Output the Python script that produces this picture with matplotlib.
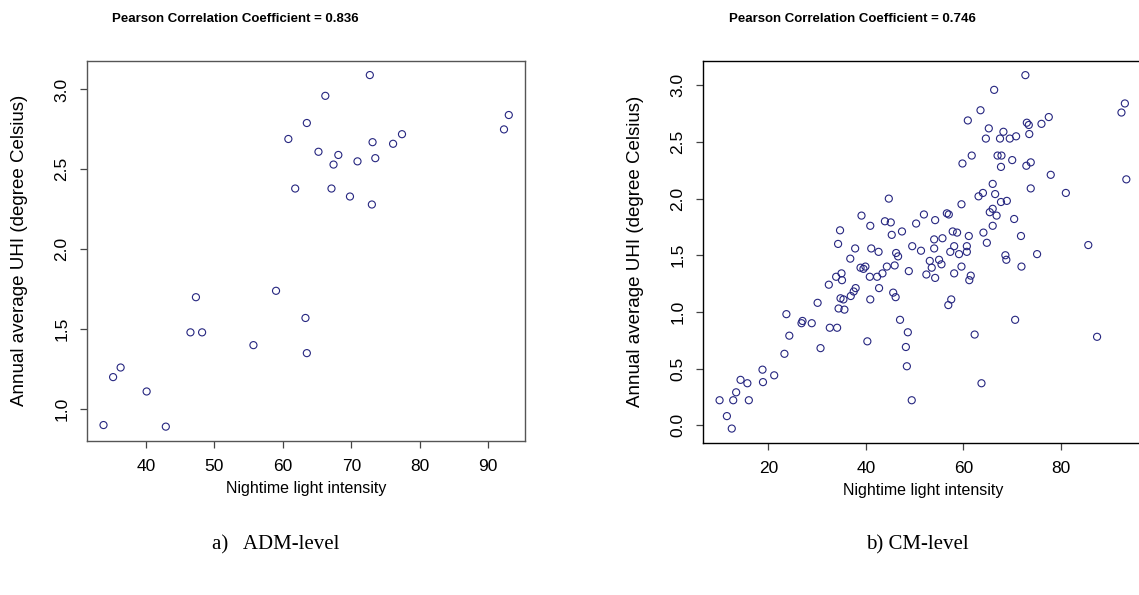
import matplotlib
matplotlib.use("Agg")
import matplotlib.pyplot as plt

# ADM-level data
adm_light = [72.7, 66.2, 63.5, 60.8, 65.2, 68.1, 67.4, 70.9, 73.1, 73.5, 76.1, 77.4,
             61.8, 67.1, 69.8, 73.0, 93.0, 92.3,
             47.3, 46.5, 48.2, 59.0, 63.3, 55.7, 63.5, 36.3, 35.2, 40.1, 33.8, 42.9]
adm_uhi = [3.09, 2.96, 2.79, 2.69, 2.61, 2.59, 2.53, 2.55, 2.67, 2.57, 2.66, 2.72,
           2.38, 2.38, 2.33, 2.28, 2.84, 2.75,
           1.70, 1.48, 1.48, 1.74, 1.57, 1.40, 1.35, 1.26, 1.20, 1.11, 0.90, 0.89]

# CM-level data
cm_light = [72.7, 66.3, 63.5, 60.9, 65.2, 68.2, 64.6, 67.5, 69.5, 70.8, 73.0, 73.4,
            73.5, 76.0, 77.5, 93.1, 92.4, 61.7, 59.8, 67.0, 67.8, 70.0, 67.7, 72.9,
            73.8, 77.9, 73.8, 81.0, 93.4, 66.0, 64.0, 63.1, 66.5, 59.6, 68.9, 67.7,
            66.0, 65.4, 66.8, 70.4, 66.0, 56.6, 57.0, 54.2, 51.9, 50.3, 47.4, 57.8,
            58.7, 61.1, 64.1, 71.8, 64.8, 85.6, 54.0, 55.7, 49.5, 58.1, 60.7,
            51.3, 54.0, 57.3, 59.1, 60.7, 68.6, 68.8, 75.1, 71.9, 53.1, 55.0, 55.5,
            53.5, 48.8, 52.4, 54.2, 58.1, 59.6, 61.5, 61.2, 57.5, 56.9, 70.6, 47.0,
            48.6, 62.3, 87.4, 48.2, 48.4, 63.7, 49.4,
            34.7, 34.3, 37.8, 36.8, 41.1, 42.6, 45.3, 46.2, 46.6, 44.3, 45.9, 43.4,
            42.3, 40.8, 38.9, 39.5, 39.9, 33.9, 35.0, 35.1, 32.4, 42.7, 37.9, 37.5,
            36.9, 34.8, 35.4, 34.4, 35.6, 40.9, 45.6, 46.1, 30.1, 23.7, 27.0, 26.8,
            28.9, 32.6, 34.1, 24.3, 30.7, 40.3, 23.3, 18.8, 18.9, 21.2, 14.3, 15.7,
            13.4, 10.0, 12.8, 16.0, 11.5, 12.5,
            44.7, 39.1, 40.9, 43.9, 45.1]
cm_uhi = [3.09, 2.96, 2.78, 2.69, 2.62, 2.59, 2.53, 2.53, 2.53, 2.55, 2.67, 2.65,
          2.57, 2.66, 2.72, 2.84, 2.76, 2.38, 2.31, 2.38, 2.38, 2.34, 2.28, 2.29,
          2.32, 2.21, 2.09, 2.05, 2.17, 2.13, 2.05, 2.02, 2.04, 1.95, 1.98, 1.97,
          1.91, 1.88, 1.85, 1.82, 1.76, 1.87, 1.86, 1.81, 1.86, 1.78, 1.71, 1.71,
          1.70, 1.67, 1.70, 1.67, 1.61, 1.59, 1.64, 1.65, 1.58, 1.58, 1.58,
          1.54, 1.56, 1.53, 1.51, 1.53, 1.50, 1.46, 1.51, 1.40, 1.45, 1.46, 1.42,
          1.39, 1.36, 1.33, 1.30, 1.34, 1.40, 1.32, 1.28, 1.11, 1.06, 0.93, 0.93,
          0.82, 0.80, 0.78, 0.69, 0.52, 0.37, 0.22,
          1.72, 1.60, 1.56, 1.47, 1.56, 1.53, 1.68, 1.52, 1.49, 1.40, 1.41, 1.34,
          1.31, 1.31, 1.39, 1.38, 1.40, 1.31, 1.34, 1.28, 1.24, 1.21, 1.21, 1.18,
          1.14, 1.12, 1.11, 1.03, 1.02, 1.11, 1.17, 1.13, 1.08, 0.98, 0.92, 0.90,
          0.90, 0.86, 0.86, 0.79, 0.68, 0.74, 0.63, 0.49, 0.38, 0.44, 0.40, 0.37,
          0.29, 0.22, 0.22, 0.22, 0.08, -0.03,
          2.00, 1.85, 1.76, 1.80, 1.79]

titles = ["Pearson Correlation Coefficient = 0.836",
          "Pearson Correlation Coefficient = 0.746"]
captions = ["a)   ADM-level", "b) CM-level"]
xlabel = "Nightime light intensity"
ylabel = "Annual average UHI (degree Celsius)"
adm_xticks = [40, 50, 60, 70, 80, 90]
adm_yticks = [1.0, 1.5, 2.0, 2.5, 3.0]
cm_xticks = [20, 40, 60, 80]
cm_yticks = [0.0, 0.5, 1.0, 1.5, 2.0, 2.5, 3.0]

SANS = ["Liberation Sans"]
W, H = 1139, 595


def r_lim(vals):
    lo, hi = min(vals), max(vals)
    pad = 0.04 * (hi - lo)
    return lo - pad, hi + pad


def style_panel(ax, xs, ys, xticks, yticks, spine_color):
    ax.scatter(xs, ys, s=26, facecolors="none", edgecolors="#262680", linewidths=0.8)
    ax.set_xlim(*r_lim(xs))
    ax.set_ylim(*r_lim(ys))
    ax.set_xticks(xticks)
    ax.set_yticks(yticks)
    ax.set_xticklabels([str(t) for t in xticks], family=SANS, fontsize=12.5)
    ax.set_yticklabels([f"{t:.1f}" for t in yticks], family=SANS, fontsize=12.5,
                       rotation=90, va="center")
    ax.tick_params(length=5, width=0.9, color="#444444", pad=8)
    for sp in ax.spines.values():
        sp.set_color(spine_color)
        sp.set_linewidth(1.0)
    ax.set_xlabel(xlabel, family=SANS, fontsize=11.5)
    ax.set_ylabel(ylabel, family=SANS, fontsize=13.5)
    ax.xaxis.set_label_coords(0.5, -0.105)
    ax.yaxis.set_label_coords(-0.135, 0.5)


fig = plt.figure(figsize=(W / 100, H / 100), dpi=100)
ax1 = fig.add_axes([87.3 / W, 1 - 440.7 / H, (525 - 87.3) / W, (440.7 - 61) / H])
ax2 = fig.add_axes([703.3 / W, 1 - 442.7 / H, (1142.6 - 703.3) / W, (442.7 - 61) / H])

style_panel(ax1, adm_light, adm_uhi, adm_xticks, adm_yticks, "#555555")
style_panel(ax2, cm_light, cm_uhi, cm_xticks, cm_yticks, "#000000")

fig.text(235 / W, 1 - 19 / H, titles[0], ha="center", va="center",
         family=SANS, fontsize=9.5, fontweight="bold")
fig.text(852 / W, 1 - 19 / H, titles[1], ha="center", va="center",
         family=SANS, fontsize=9.5, fontweight="bold")
fig.text(212 / W, 1 - 545 / H, captions[0], ha="left", va="center",
         family=["Liberation Serif"], fontsize=15)
fig.text(866 / W, 1 - 545 / H, captions[1], ha="left", va="center",
         family=["Liberation Serif"], fontsize=15)

fig.savefig("out.png", dpi=100)
